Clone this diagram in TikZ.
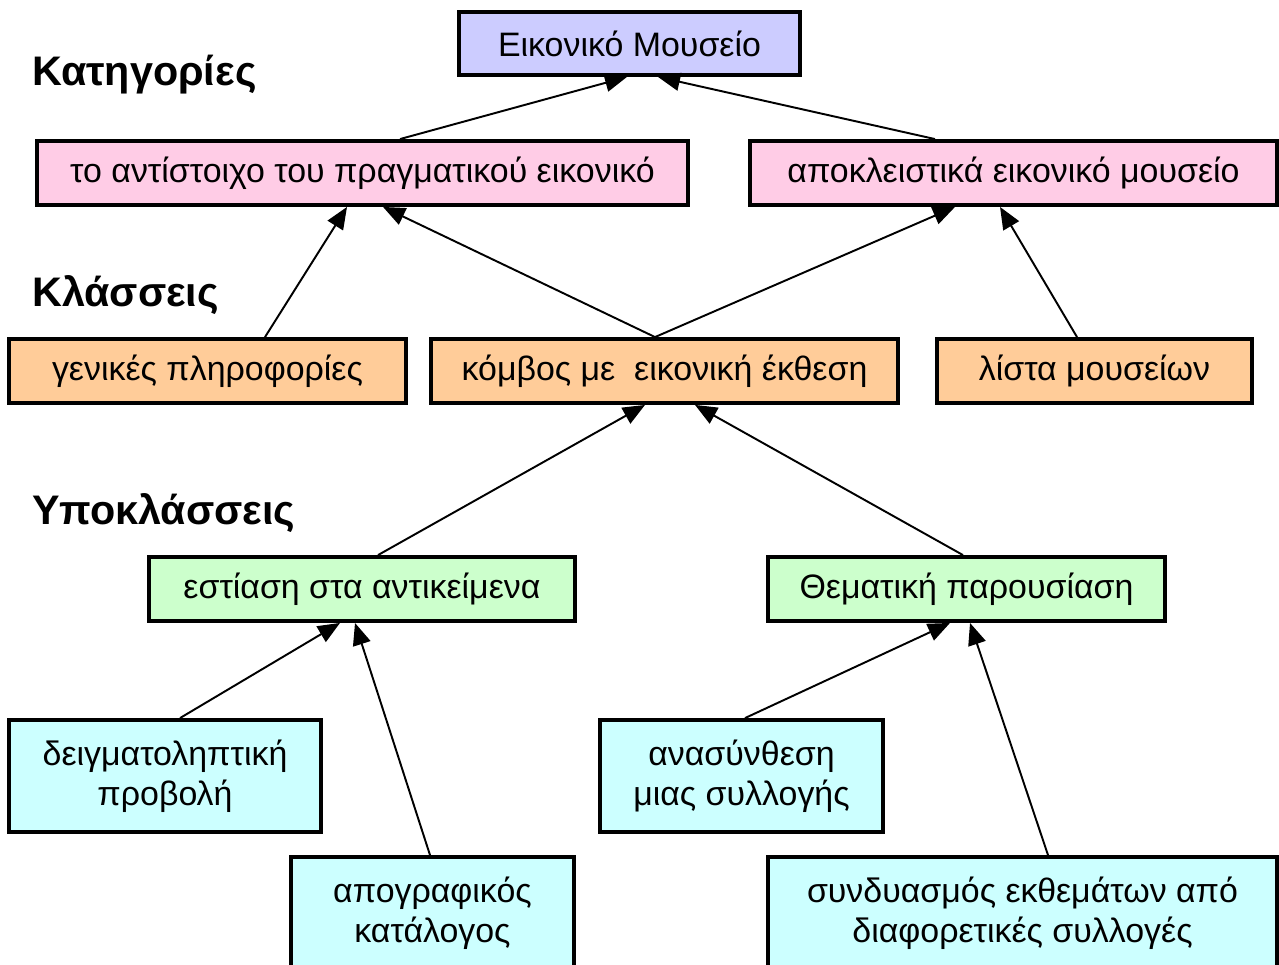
\documentclass[tikz,border=0pt]{standalone}
\usepackage{fontspec}
\setmainfont{Liberation Sans}
\usepackage{tikz}
\usetikzlibrary{
	arrows.meta,
	positioning,
	calc
}
\usepackage{xcolor}
\definecolor{museumfill}{RGB}{204,204,255}
\definecolor{catfill}{RGB}{255,204,230}
\definecolor{classfill}{RGB}{255,204,153}
\definecolor{subfill}{RGB}{204,255,204}
\definecolor{leaffill}{RGB}{204,255,255}

\begin{document}
\begin{tikzpicture}[
		>={Triangle[length=0.44cm,width=0.36cm]},
		box/.style={
			draw,
			line width=2.2pt,
			minimum height=1.28cm,
			inner sep=0pt,
			font=\fontsize{19.3}{23}\selectfont
		},
		twoline/.style={
			box,
			minimum height=2.24cm,
			align=center
		},
		level/.style={
			anchor=west,
			font=\fontsize{23.5}{28}\selectfont\bfseries
		},
		link/.style={
			->,
			line width=1.1pt
		}
		]
		
		\useasboundingbox (0,0) rectangle (25.58,-19.28);
		\clip (0,0) rectangle (25.58,-19.28);
		
		% Levels
		\node[level] (lcat) at (0.52,-1.5) {Κατηγορίες};
		\node[level] (lclass) at (0.52,-5.9) {Κλάσσεις};
		\node[level] (lsub) at (0.52,-10.26) {Υποκλάσσεις};
		
		% Museum
		\node[box,fill=museumfill,minimum width=6.82cm,minimum height=1.26cm] (museum) at (12.59,-0.87) {Εικονικό Μουσείο};
		
		% Categories
		\node[box,fill=catfill,minimum width=13.02cm] (real) at (7.25,-3.46) {το αντίστοιχο του πραγματικού εικονικό};
		\node[box,fill=catfill,minimum width=10.54cm] (only) at (20.27,-3.46) {αποκλειστικά εικονικό μουσείο};
		
		% Classes
		\node[box,fill=classfill,minimum width=7.94cm] (info) at (4.15,-7.42) {γενικές πληροφορίες};
		\node[box,fill=classfill,minimum width=9.34cm] (hub) at (13.29,-7.42) {κόμβος με\ \ εικονική έκθεση};
		\node[box,fill=classfill,minimum width=6.3cm] (list) at (21.89,-7.42) {λίστα μουσείων};
		
		% Subclasses
		\node[box,fill=subfill,minimum width=8.52cm] (objects) at (7.24,-11.78) {εστίαση στα αντικείμενα};
		\node[box,fill=subfill,minimum width=7.94cm] (theme) at (19.33,-11.78) {Θεματική παρουσίαση};
		
		% Leaves
		\node[twoline,fill=leaffill,minimum width=6.24cm] (sample) at (3.3,-15.52) {δειγματοληπτική\\προβολή};
		\node[twoline,fill=leaffill,minimum width=5.66cm] (catalog) at (8.65,-18.26) {απογραφικός\\κατάλογος};
		\node[twoline,fill=leaffill,minimum width=5.66cm] (recomp) at (14.83,-15.52) {ανασύνθεση\\μιας συλλογής};
		\node[twoline,fill=leaffill,minimum width=10.18cm] (combo) at (20.45,-18.26) {συνδυασμός εκθεμάτων από\\διαφορετικές συλλογές};
		
		% Connections
		\draw[link] ([xshift=0.75cm]real.north) -- ([xshift=-0.05cm]museum.south);
		\draw[link] ([xshift=-1.57cm]only.north) -- ([xshift=0.57cm]museum.south);
		
		\draw[link] ([xshift=1.15cm]info.north) -- ([xshift=-0.31cm]real.south);
		\draw[link] ([xshift=-0.19cm]hub.north) -- ([xshift=0.41cm]real.south);
		\draw[link] ([xshift=-0.19cm]hub.north) -- ([xshift=-1.17cm]only.south);
		\draw[link] ([xshift=-0.35cm]list.north) -- ([xshift=-0.27cm]only.south);
		
		\draw[link] ([xshift=0.32cm]objects.north) -- ([xshift=-0.39cm]hub.south);
		\draw[link] ([xshift=-0.07cm]theme.north) -- ([xshift=0.61cm]hub.south);
		
		\draw[link] ([xshift=0.3cm]sample.north) -- ([xshift=-0.44cm]objects.south);
		\draw[link] ([xshift=-0.05cm]catalog.north) -- ([xshift=-0.14cm]objects.south);
		\draw[link] ([xshift=0.07cm]recomp.north) -- ([xshift=-0.33cm]theme.south);
		\draw[link] ([xshift=0.51cm]combo.north) -- ([xshift=0.07cm]theme.south);
		
	\end{tikzpicture}
\end{document}
